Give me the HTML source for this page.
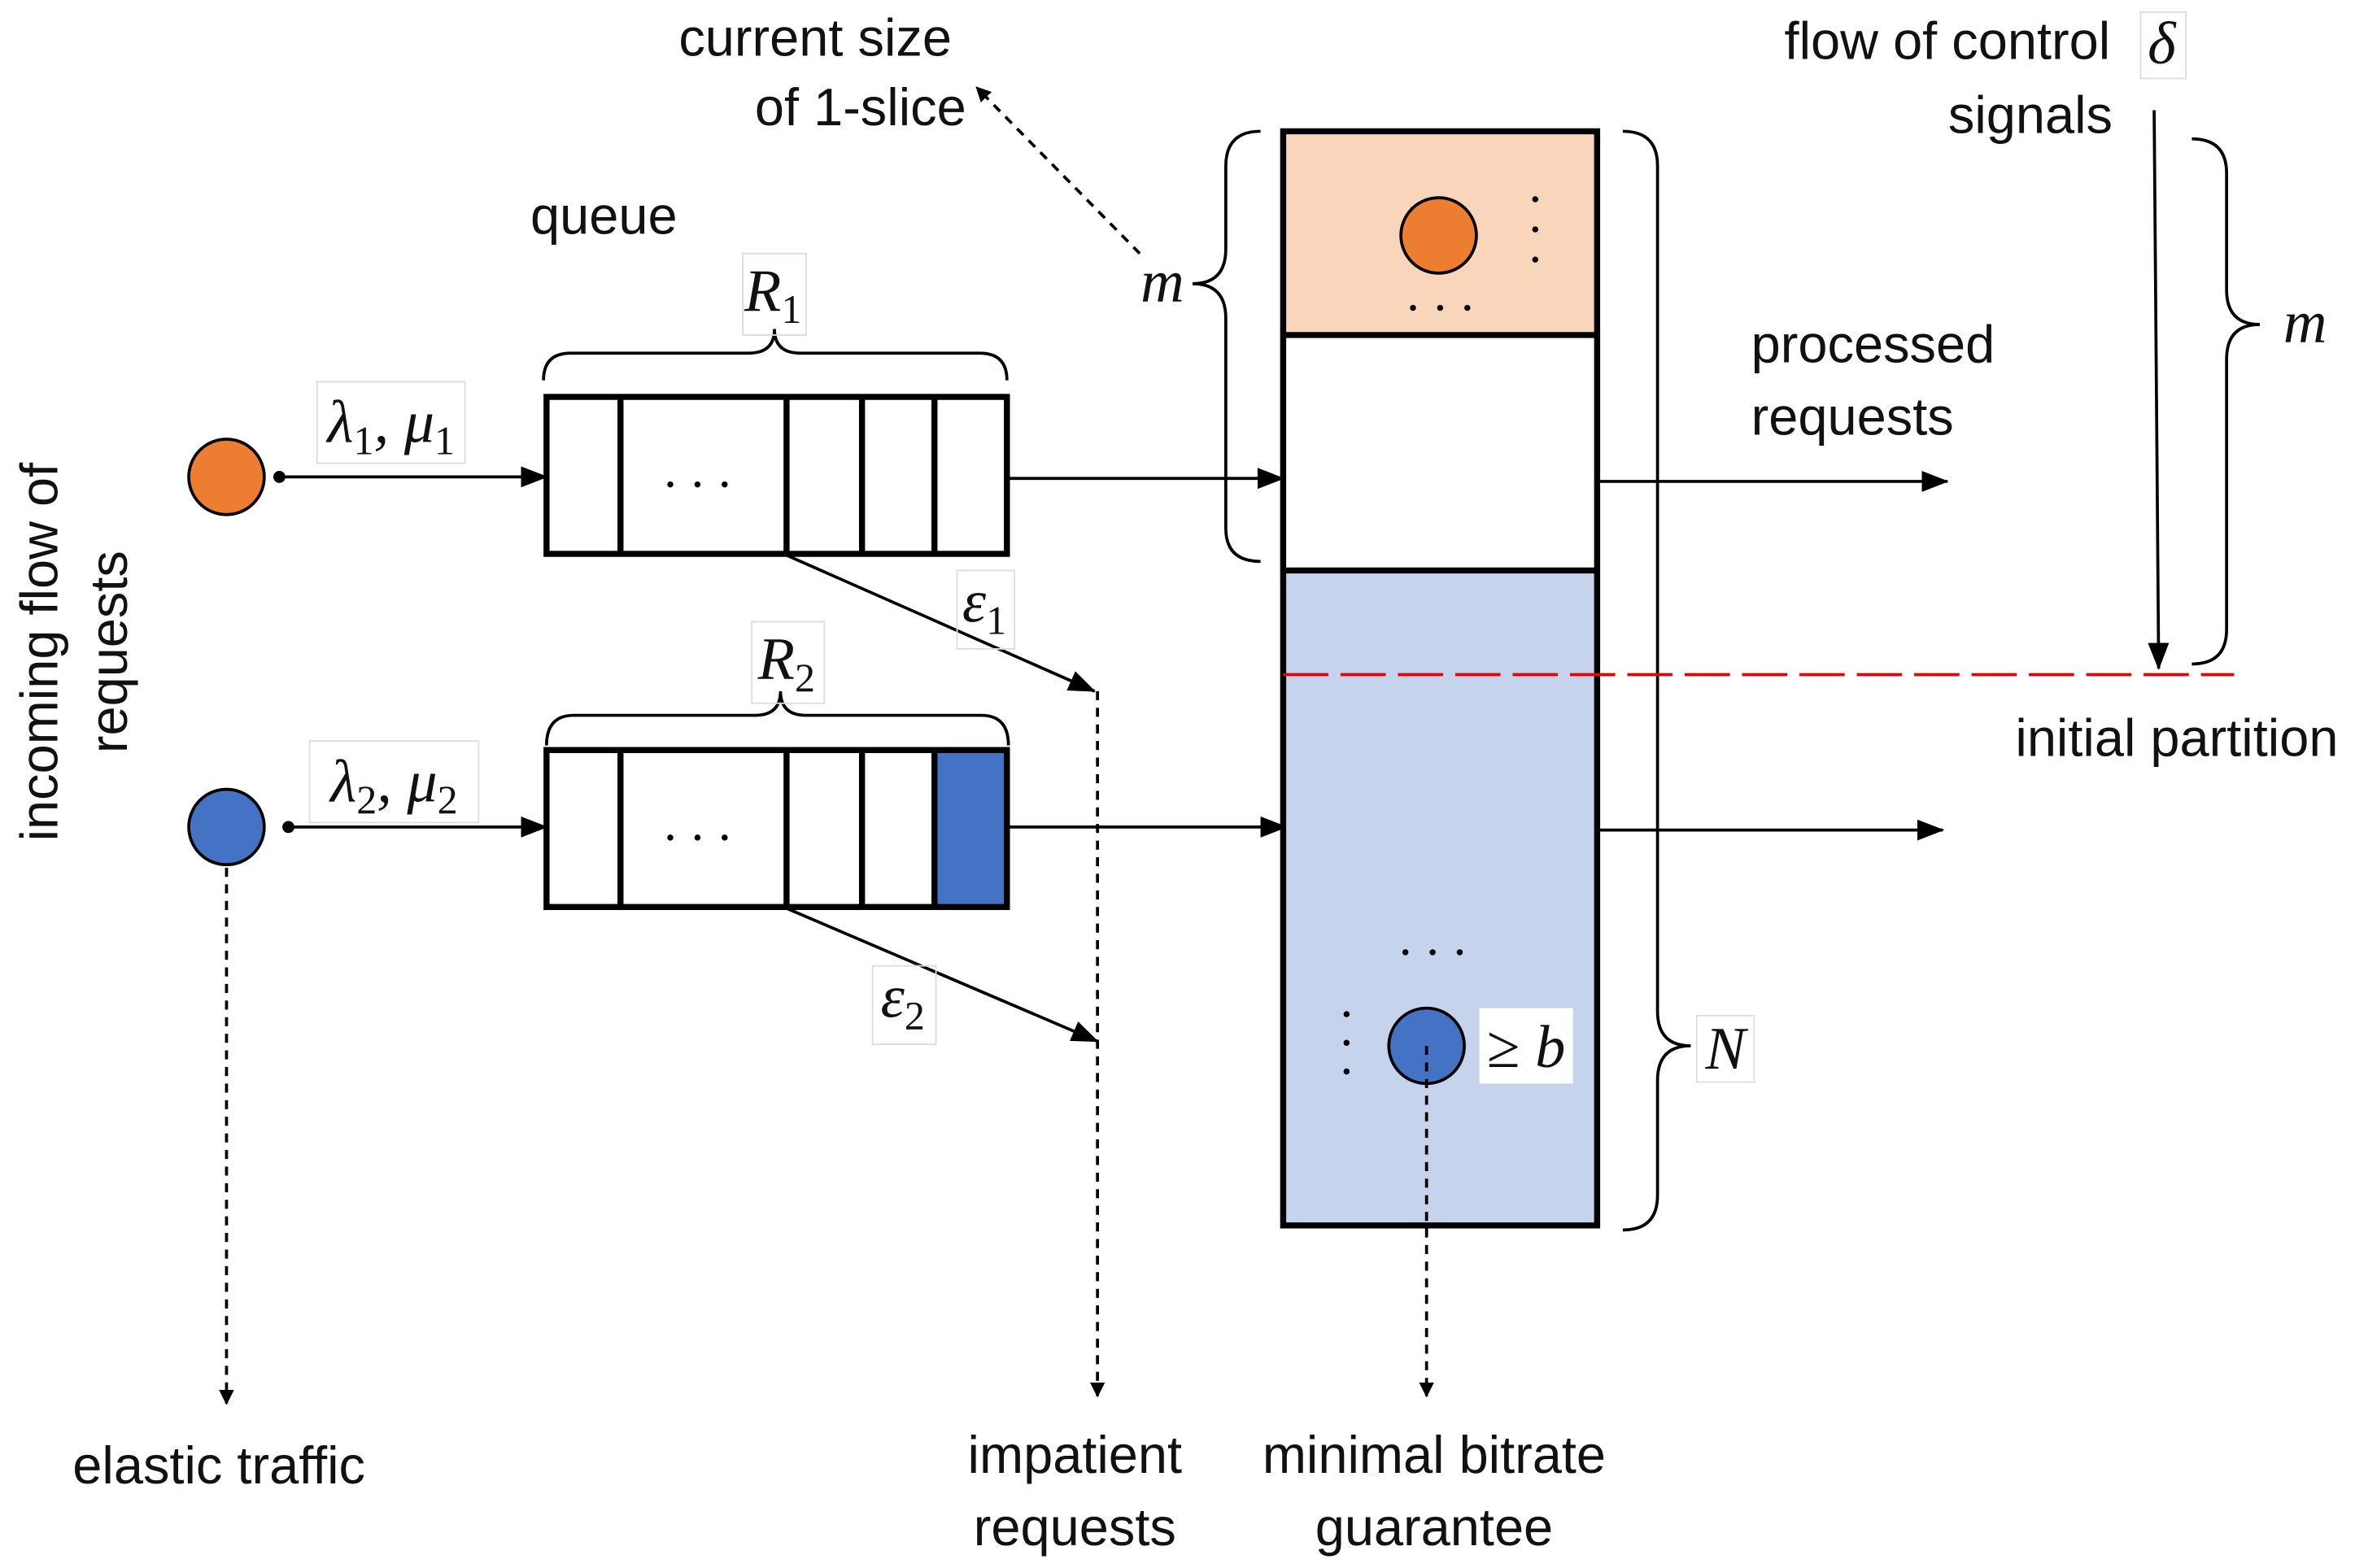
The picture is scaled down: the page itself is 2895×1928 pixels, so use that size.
<!DOCTYPE html>
<html><head><meta charset="utf-8"><style>html,body{margin:0;padding:0;background:#fff}svg{display:block}
.t{font-family:"Liberation Sans",sans-serif;font-size:35px;fill:#111}
.m{font-family:"Liberation Serif",serif;font-style:italic;font-size:40px;fill:#111}
.s{font-style:normal;font-size:27px}
</style></head><body>
<svg width="2895" height="1928" viewBox="0 0 1560 1039" xmlns="http://www.w3.org/2000/svg">
<defs><marker id="a" markerWidth="10" markerHeight="10" refX="9" refY="5" orient="auto" markerUnits="userSpaceOnUse" viewBox="0 0 10 10"><path d="M0,0L10,5L0,10z" fill="#000"/></marker>
<marker id="b" markerWidth="18" markerHeight="14" refX="17" refY="7" orient="auto" markerUnits="userSpaceOnUse" viewBox="0 0 18 14"><path d="M0,0L18,7L0,14z" fill="#000"/></marker></defs>
<g stroke="#000" fill="none" stroke-width="2">
<circle cx="150" cy="316" r="25" fill="#ed7d31" stroke-width="2"/>
<circle cx="150" cy="548" r="25" fill="#4472c4"/>
<circle cx="185" cy="316" r="3" fill="#000"/><circle cx="191" cy="548" r="3" fill="#000"/>
<line x1="185" y1="316" x2="362" y2="316" marker-end="url(#b)"/>
<line x1="191" y1="548" x2="362" y2="548" marker-end="url(#b)"/>
<rect x="619" y="497" width="48" height="104" fill="#4472c4" stroke="none"/>
<g stroke-width="4">
<rect x="362" y="263" width="305" height="104"/>
<line x1="411" y1="263" x2="411" y2="367"/><line x1="521" y1="263" x2="521" y2="367"/><line x1="571" y1="263" x2="571" y2="367"/><line x1="619" y1="263" x2="619" y2="367"/>
<rect x="362" y="497" width="305" height="104"/>
<line x1="411" y1="497" x2="411" y2="601"/><line x1="521" y1="497" x2="521" y2="601"/><line x1="571" y1="497" x2="571" y2="601"/><line x1="619" y1="497" x2="619" y2="601"/>
</g>
<path d="M360,252 Q360,234 378,234 L496,234 Q513,234 513,218 Q513,234 530,234 L649,234 Q667,234 667,252"/>
<path d="M362,494 Q362,474 380,474 L500,474 Q517,474 517,458 Q517,474 534,474 L650,474 Q668,474 668,494"/>
<line x1="667" y1="317" x2="850" y2="317" marker-end="url(#b)"/>
<line x1="667" y1="548" x2="852" y2="548" marker-end="url(#b)"/>
<rect x="850" y="87" width="208" height="135" fill="#f8d5bb" stroke="none"/>
<rect x="850" y="378" width="208" height="434" fill="#c5d3ec" stroke="none"/>
<g stroke-width="4"><rect x="850" y="87" width="208" height="725"/>
<line x1="850" y1="222" x2="1058" y2="222"/><line x1="850" y1="378" x2="1058" y2="378"/></g>
<circle cx="953" cy="156" r="25" fill="#ed7d31"/>
<circle cx="945" cy="693" r="25" fill="#4472c4"/>
<rect x="980" y="668" width="62" height="50" fill="#fff" stroke="none"/>
<path d="M835,87 Q812,87 812,110 L812,165 Q812,188 790,188 Q812,188 812,211 L812,350 Q812,372 835,372"/>
<path d="M1075,87 Q1098,87 1098,110 L1098,670 Q1098,693 1120,693 Q1098,693 1098,716 L1098,792 Q1098,815 1075,815"/>
<path d="M1452,92 Q1475,92 1475,115 L1475,192 Q1475,215 1497,215 Q1475,215 1475,238 L1475,417 Q1475,440 1452,440"/>
<line x1="519" y1="367" x2="725" y2="458" marker-end="url(#b)"/>
<line x1="519" y1="601" x2="727" y2="690" marker-end="url(#b)"/>
<g stroke-dasharray="6,5">
<line x1="727" y1="458" x2="727" y2="925" marker-end="url(#a)"/>
<line x1="150" y1="575" x2="150" y2="930" marker-end="url(#a)"/>
<line x1="945" y1="693" x2="945" y2="925" marker-end="url(#a)"/>
<line x1="755" y1="168" x2="647" y2="58" marker-end="url(#a)"/>
</g>
<line x1="1058" y1="319" x2="1290" y2="319" marker-end="url(#b)"/>
<line x1="1058" y1="550" x2="1287" y2="550" marker-end="url(#b)"/>
<line x1="1427" y1="73" x2="1430" y2="443" marker-end="url(#b)"/>
<line x1="850" y1="447" x2="1480" y2="447" stroke="#e00" stroke-dasharray="30,8"/>
<g stroke="#ddd" stroke-width="1">
<rect x="210" y="253" width="98" height="54"/><rect x="205" y="491" width="112" height="54"/>
<rect x="492" y="168" width="42" height="54"/><rect x="498" y="412" width="48" height="54"/>
<rect x="634" y="378" width="38" height="52"/><rect x="578" y="640" width="42" height="52"/>
<rect x="1418" y="8" width="30" height="44"/><rect x="1124" y="673" width="38" height="44"/>
</g>
</g>
<g fill="#000">
<circle cx="444" cy="321" r="2"/><circle cx="462" cy="321" r="2"/><circle cx="480" cy="321" r="2"/>
<circle cx="444" cy="555" r="2"/><circle cx="462" cy="555" r="2"/><circle cx="480" cy="555" r="2"/>
<circle cx="1017" cy="132" r="2"/><circle cx="1017" cy="152" r="2"/><circle cx="1017" cy="172" r="2"/>
<circle cx="936" cy="204" r="2"/><circle cx="954" cy="204" r="2"/><circle cx="972" cy="204" r="2"/>
<circle cx="931" cy="631" r="2"/><circle cx="949" cy="631" r="2"/><circle cx="967" cy="631" r="2"/>
<circle cx="892" cy="672" r="2"/><circle cx="892" cy="691" r="2"/><circle cx="892" cy="710" r="2"/>
</g>
<text class="t" x="540" y="37" text-anchor="middle">current size</text>
<text class="t" x="570" y="83" text-anchor="middle">of 1-slice</text>
<text class="t" x="400" y="155" text-anchor="middle">queue</text>
<text class="t" x="1160" y="240">processed</text>
<text class="t" x="1160" y="288">requests</text>
<text class="t" x="1290" y="39" text-anchor="middle">flow of control</text>
<text class="t" x="1345" y="88" text-anchor="middle">signals</text>
<text class="t" x="1442" y="501" text-anchor="middle">initial partition</text>
<text class="t" x="145" y="983" text-anchor="middle">elastic traffic</text>
<text class="t" x="712" y="976" text-anchor="middle">impatient</text>
<text class="t" x="712" y="1024" text-anchor="middle">requests</text>
<text class="t" x="950" y="976" text-anchor="middle">minimal bitrate</text>
<text class="t" x="950" y="1024" text-anchor="middle">guarantee</text>
<text class="t" transform="translate(38,432) rotate(-90)" text-anchor="middle">incoming flow of</text>
<text class="t" transform="translate(84,432) rotate(-90)" text-anchor="middle">requests</text>
<text class="m" x="259" y="293" text-anchor="middle">λ<tspan class="s" dy="8">1</tspan><tspan dy="-8">, μ</tspan><tspan class="s" dy="8">1</tspan></text>
<text class="m" x="261" y="531" text-anchor="middle">λ<tspan class="s" dy="8">2</tspan><tspan dy="-8">, μ</tspan><tspan class="s" dy="8">2</tspan></text>
<text class="m" x="512" y="206" text-anchor="middle">R<tspan class="s" dy="8">1</tspan></text>
<text class="m" x="521" y="450" text-anchor="middle">R<tspan class="s" dy="8">2</tspan></text>
<text class="m" x="652" y="412" text-anchor="middle">ε<tspan class="s" dy="8">1</tspan></text>
<text class="m" x="598" y="674" text-anchor="middle">ε<tspan class="s" dy="8">2</tspan></text>
<text class="m" x="770" y="200" text-anchor="middle">m</text>
<text class="m" x="1527" y="227" text-anchor="middle">m</text>
<text class="m" x="1143" y="708" text-anchor="middle">N</text>
<text class="m" x="1432" y="42" text-anchor="middle">δ</text>
<text class="m" x="1011" y="707" text-anchor="middle"><tspan font-style="normal">≥</tspan> b</text>
</svg>
</body></html>
